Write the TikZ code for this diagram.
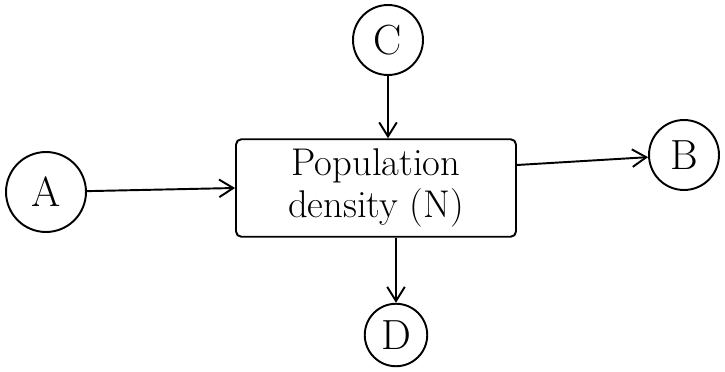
\documentclass[tikz,border=0pt]{standalone}
\usetikzlibrary{arrows.meta}
\begin{document}
\begin{tikzpicture}[x=0.02cm,y=-0.02cm,
  circ/.style={draw,circle,line width=1.1pt,minimum size=1.35cm,inner sep=0pt,font=\fontsize{24}{26}\selectfont},
  boxnode/.style={draw,rounded corners=3pt,line width=1.1pt,minimum width=5.6cm,minimum height=1.95cm,align=center,font=\fontsize{22}{24}\selectfont},
  arr/.style={-{Straight Barb[length=8pt,width=10pt]},line width=1.1pt}]
\useasboundingbox (0,0) rectangle (725,372);
\node[boxnode] (P) at (376,188) {Population\\ density (N)};
\node[circ,minimum width=1.5cm,minimum height=1.6cm] (A) at (46,192) {A};
\node[circ,minimum width=1.4cm,minimum height=1.4cm] (B) at (684,155) {B};
\node[circ,minimum width=1.3cm,minimum height=1.4cm] (C) at (388,40) {C};
\node[circ,minimum width=1.25cm,minimum height=1.2cm] (D) at (396,335) {D};
\draw[arr] (A) -- (P.west);
\draw[arr] (P.east |- 0,165) -- (B);
\draw[arr] (C) -- (C |- P.north);
\draw[arr] (P.south -| D) -- (D);
\end{tikzpicture}
\end{document}
